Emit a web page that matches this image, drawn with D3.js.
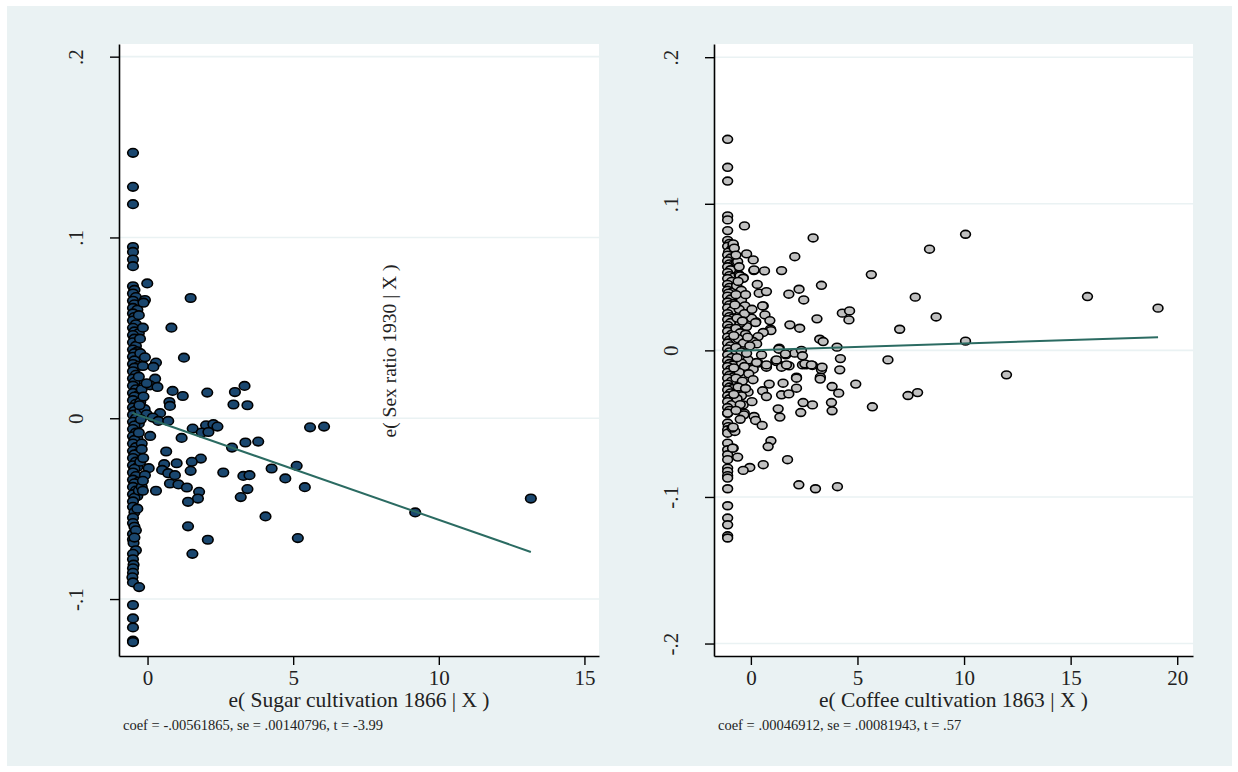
<!DOCTYPE html>
<html>
<head>
<meta charset="utf-8">
<script src="https://cdn.jsdelivr.net/npm/d3@7"></script>
<style>
  body { margin: 0; background: #fff; }
  text { font-family: "Liberation Serif", "DejaVu Serif", serif; fill: #222; }
</style>
</head>
<body>
<div id="chart"></div>
<script>
// 데이터: 왼쪽 (Sugar), 오른쪽 (Coffee) added-variable plot
const sugarColumn = [
  [-0.5,0.1468],[-0.5,0.128],[-0.5,0.1184],[-0.5,0.0947],[-0.5,0.092],[-0.5,0.0878],[-0.5,0.0841],
  [-0.5,0.073],[-0.45,0.071],[-0.5,0.069],[-0.4,0.067],[-0.5,0.065],[-0.45,0.063],[-0.5,0.061],[-0.35,0.06],
  [-0.5,0.058],[-0.45,0.056],[-0.5,0.054],[-0.4,0.052],[-0.5,0.05],[-0.45,0.048],[-0.3,0.047],[-0.5,0.046],
  [-0.45,0.044],[-0.5,0.042],[-0.4,0.04],[-0.5,0.038],[-0.35,0.037],[-0.45,0.036],[-0.5,0.034],[-0.45,0.032],
  [-0.5,0.03],[-0.3,0.029],[-0.45,0.028],[-0.5,0.026],[-0.4,0.024],[-0.5,0.022],[-0.35,0.021],[-0.45,0.02],
  [-0.5,0.018],[-0.4,0.016],[-0.5,0.014],[-0.3,0.013],[-0.45,0.012],[-0.5,0.01],[-0.4,0.008],[-0.5,0.006],
  [-0.35,0.005],[-0.45,0.004],[-0.5,0.002],[-0.4,0.0],[-0.5,-0.002],[-0.3,-0.003],[-0.45,-0.004],[-0.5,-0.006],
  [-0.4,-0.008],[-0.5,-0.01],[-0.35,-0.011],[-0.45,-0.012],[-0.5,-0.014],[-0.4,-0.016],[-0.5,-0.018],[-0.3,-0.019],
  [-0.45,-0.02],[-0.5,-0.022],[-0.4,-0.024],[-0.5,-0.026],[-0.35,-0.027],[-0.45,-0.028],[-0.5,-0.03],[-0.4,-0.032],
  [-0.5,-0.034],[-0.3,-0.035],[-0.45,-0.036],[-0.5,-0.038],[-0.4,-0.04],[-0.5,-0.042],[-0.35,-0.043],[-0.45,-0.044],
  [-0.5,-0.046],[-0.5,-0.049],[-0.45,-0.052],[-0.5,-0.055],[-0.5,-0.058],[-0.45,-0.06],[-0.5,-0.064],[-0.5,-0.067],
  [-0.48,-0.069],[-0.4,-0.073],[-0.5,-0.075],[-0.5,-0.078],[-0.48,-0.081],[-0.5,-0.083],[-0.5,-0.0855],[-0.52,-0.088],
  [-0.5,-0.0908],[-0.29,-0.0934],[-0.5,-0.1033],[-0.5,-0.1107],[-0.5,-0.1157],[-0.5,-0.123],[-0.5,-0.1238],
  [-0.3,0.057],[-0.25,0.036],[-0.3,0.023],[-0.2,0.016],[-0.25,0.004],[-0.3,-0.008],[-0.2,-0.014],[-0.25,-0.024],
  [-0.3,-0.04],[-0.35,-0.05],[-0.4,-0.062],[-0.45,-0.066],[-0.25,0.009],[-0.1,0.005],[-0.2,-0.038],[-0.15,-0.022]
];
const sugarScatter = [
  [-0.01,0.0746],[1.48,0.0665],[-0.09,0.0654],[-0.14,0.0639],[0.82,0.0501],[-0.16,0.0501],[-0.26,0.044],
  [1.25,0.0335],[0.29,0.0308],[0.2,0.0284],[-0.16,0.0289],[-0.09,0.0337],[0.26,0.0219],[0.09,0.0182],
  [0.34,0.0173],[-0.03,0.0193],[0.86,0.0151],[1.21,0.0123],[2.05,0.0142],[3.0,0.0145],[3.33,0.0179],
  [2.95,0.0076],[3.43,0.0072],[0.75,0.009],[0.77,0.0068],[-0.14,0.012],[-0.28,0.0072],[0.43,0.0028],
  [-0.03,0.0022],[0.18,0.0004],[0.37,-0.0015],[0.71,-0.0015],[-0.23,-0.0006],[1.55,-0.0057],[2.01,-0.0039],
  [2.26,-0.0033],[2.4,-0.0046],[1.86,-0.0079],[2.09,-0.0076],[5.58,-0.005],[6.06,-0.0046],[0.09,-0.0098],
  [1.17,-0.0109],[2.9,-0.0162],[3.36,-0.0134],[3.8,-0.0129],[0.64,-0.0184],[-0.2,-0.0171],[1.83,-0.0223],
  [1.52,-0.0241],[1.0,-0.0249],[0.57,-0.0254],[0.04,-0.0276],[1.48,-0.0291],[0.5,-0.0286],[0.71,-0.0304],
  [0.94,-0.0315],[2.6,-0.03],[3.29,-0.0319],[3.5,-0.0315],[4.26,-0.0278],[5.12,-0.0263],[4.73,-0.0333],
  [-0.09,-0.0315],[-0.16,-0.0346],[0.77,-0.0361],[1.06,-0.0366],[1.35,-0.0383],[0.29,-0.0401],[-0.16,-0.0401],
  [1.77,-0.0407],[1.73,-0.0444],[1.39,-0.0462],[3.43,-0.0392],[3.2,-0.0436],[5.4,-0.0381],[4.05,-0.0543],
  [1.39,-0.0598],[2.07,-0.0672],[5.16,-0.0663],[1.54,-0.075],[9.19,-0.0521],[13.16,-0.0444]
];
const coffeeColumn = [
  [-1.09,0.144],[-1.09,0.1249],[-1.09,0.1155],[-1.09,0.0917],[-1.09,0.089],[-1.09,0.0817],
  [-1.09,0.075],[-1.0,0.073],[-1.09,0.071],[-0.9,0.069],[-1.05,0.067],[-1.09,0.065],[-0.95,0.063],[-1.09,0.061],
  [-1.0,0.059],[-0.85,0.058],[-1.09,0.057],[-0.95,0.055],[-1.09,0.053],[-1.0,0.051],[-0.8,0.05],[-1.09,0.049],
  [-0.9,0.047],[-1.09,0.045],[-1.0,0.043],[-1.09,0.041],[-0.85,0.04],[-1.05,0.039],[-1.09,0.037],[-0.95,0.035],
  [-1.09,0.033],[-0.8,0.032],[-1.0,0.031],[-1.09,0.029],[-0.9,0.027],[-1.09,0.025],[-1.0,0.023],[-0.85,0.022],
  [-1.09,0.021],[-0.95,0.019],[-1.09,0.017],[-1.0,0.015],[-0.8,0.014],[-1.09,0.013],[-0.9,0.011],[-1.09,0.009],
  [-1.0,0.007],[-0.85,0.006],[-1.09,0.005],[-0.95,0.003],[-1.09,0.001],[-1.0,-0.001],[-0.8,-0.002],[-1.09,-0.003],
  [-0.9,-0.005],[-1.09,-0.007],[-1.0,-0.009],[-0.85,-0.01],[-1.09,-0.011],[-0.95,-0.013],[-1.09,-0.015],[-1.0,-0.017],
  [-0.8,-0.018],[-1.09,-0.019],[-0.9,-0.021],[-1.09,-0.023],[-1.0,-0.025],[-0.85,-0.026],[-1.09,-0.027],[-0.95,-0.029],
  [-1.09,-0.031],[-1.0,-0.033],[-0.8,-0.034],[-1.09,-0.035],[-0.9,-0.037],[-1.09,-0.039],[-1.0,-0.041],[-1.09,-0.043],
  [-1.09,-0.0428],[-1.09,-0.0496],[-1.06,-0.052],[-1.09,-0.0542],[-1.09,-0.0565],[-1.09,-0.0633],[-1.09,-0.0678],
  [-1.09,-0.0712],[-1.09,-0.0746],[-1.09,-0.0803],[-1.09,-0.0826],[-1.09,-0.0855],[-1.09,-0.0871],[-1.09,-0.0944],
  [-1.09,-0.106],[-1.09,-0.1144],[-1.09,-0.119],[-1.09,-0.1265],[-1.09,-0.128]
];
const coffeeScatter = [
  [-0.3,0.0849],[2.92,0.0767],[2.06,0.0639],[5.65,0.0517],[-0.83,0.0719],[-0.8,0.0701],[-0.2,0.0658],
  [0.11,0.0617],[-0.67,0.0599],[0.14,0.0544],[0.64,0.0542],[1.44,0.0544],[-0.55,0.0515],[-0.36,0.0496],
  [3.31,0.0444],[-0.67,0.0444],[0.39,0.039],[0.73,0.0401],[1.78,0.0383],[2.26,0.0417],[2.48,0.0344],
  [0.58,0.0303],[-0.51,0.034],[-0.36,0.0299],[0.66,0.0242],[0.89,0.0203],[0.92,0.0145],[0.23,0.0196],
  [3.1,0.0215],[4.29,0.0254],[4.63,0.0269],[4.6,0.0208],[1.83,0.0174],[2.29,0.0151],[3.23,0.0076],
  [3.39,0.006],[4.04,0.0022],[1.33,0.0015],[1.64,-0.0031],[2.06,-0.0019],[2.37,0.0],[2.42,-0.0037],
  [4.2,-0.0056],[6.43,-0.0065],[1.17,-0.007],[0.19,-0.0087],[0.73,-0.011],[2.42,-0.0099],[2.6,-0.0099],
  [2.89,-0.0103],[1.48,-0.0106],[1.79,-0.0106],[3.31,-0.0133],[4.17,-0.0133],[2.14,-0.0183],[3.26,-0.0183],
  [10.07,0.0792],[8.38,0.069],[7.71,0.0363],[15.79,0.0367],[19.1,0.0288],[8.69,0.0228],[6.98,0.0144],
  [10.07,0.0063],[11.99,-0.0167],[4.92,-0.023],[7.37,-0.0308],[7.82,-0.0288],[5.7,-0.0385],
  [-0.2,-0.0083],[0.34,-0.0087],[0.73,-0.0115],[1.2,-0.0076],[1.44,-0.0115],[-0.36,-0.0133],[0.11,-0.0128],
  [2.14,-0.019],[3.25,-0.0196],[3.81,-0.0247],[4.12,-0.0292],[0.86,-0.023],[1.51,-0.0224],[2.14,-0.0258],
  [0.55,-0.0276],[0.73,-0.0315],[1.44,-0.0303],[1.78,-0.0297],[-0.13,-0.0285],[-0.44,-0.031],[2.45,-0.0356],
  [2.89,-0.0372],[3.78,-0.0356],[3.81,-0.0412],[1.28,-0.0399],[1.36,-0.0455],[2.34,-0.0424],[-0.36,-0.0372],
  [-0.31,-0.0428],[0.15,-0.0451],[0.22,-0.0478],[0.53,-0.0512],[-0.75,-0.0553],[-0.88,-0.053],[0.94,-0.0617],
  [0.81,-0.0656],[-0.83,-0.0667],[-0.62,-0.0728],[1.72,-0.0746],[0.58,-0.078],[-0.05,-0.0799],[-0.36,-0.0819],
  [2.25,-0.0917],[3.03,-0.0944],[4.06,-0.093],
  [-0.83,0.0726],[-0.78,0.0697],[-0.62,0.0605],[0.15,0.0549],[-0.51,0.0508],[-0.36,0.0492],[-0.67,0.044],
  [-0.44,0.0344],[-0.28,0.0303],[0.55,0.0303],[-0.13,0.0242],[0.03,0.022],[0.22,0.019],[0.94,0.0135],
  [0.58,0.0122],[0.34,0.0094],[0.11,0.006],[0.27,0.0044],[-0.2,0.0162],[-0.51,0.0185],[1.31,0.0008],
  [1.62,-0.0024],[0.5,-0.0031],[-0.13,-0.0065],[-0.44,-0.0087],[0.27,-0.0083],[0.73,-0.0099],[1.2,-0.0065],
  [1.67,-0.0099],[2.53,-0.0092],[2.84,-0.0099],[3.34,-0.0115],[-0.33,-0.044],[-0.83,-0.0524],[-0.86,-0.0667],
  [-0.7,0.065],[-0.6,0.047],[-0.45,0.041],[-0.7,0.038],[-0.55,0.028],[-0.3,0.025],[-0.65,0.022],[-0.4,0.02],
  [-0.7,0.015],[-0.5,0.012],[-0.25,0.011],[-0.6,0.008],[-0.35,0.005],[-0.05,0.003],[-0.7,0.002],[-0.45,-0.001],
  [-0.2,-0.002],[-0.65,-0.005],[-0.3,-0.011],[-0.55,-0.015],[-0.1,-0.016],[-0.7,-0.019],[-0.4,-0.021],[0.1,-0.02],
  [-0.6,-0.025],[-0.25,-0.026],[-0.65,-0.033],[-0.5,-0.037],[-0.7,-0.041],[0.05,-0.035],[-0.15,0.009],[0.05,0.028],
  [-0.55,0.057],[-0.25,0.038],[0.3,0.045],[-0.5,-0.047],[-0.75,0.031],[-0.8,0.01],[-0.8,-0.012],[-0.8,-0.03]
];

const sugarXTicks = [0, 5, 10, 15];
const sugarYTicks = [-0.1, 0, 0.1, 0.2];
const coffeeXTicks = [0, 5, 10, 15, 20];
const coffeeYTicks = [-0.2, -0.1, 0, 0.1, 0.2];
const sugarCoef = -0.00561865;
const coffeeCoef = 0.00046912;
const sugarTitle = "e( Sugar cultivation 1866 | X )";
const coffeeTitle = "e( Coffee cultivation 1863 | X )";
const sugarNote = "coef = -.00561865, se = .00140796, t = -3.99";
const coffeeNote = "coef = .00046912, se = .00081943, t = .57";
const yTitle = "e( Sex ratio 1930 | X )";

const W = 1238, H = 772;
const svg = d3.select("#chart").append("svg").attr("width", W).attr("height", H);

// 바깥 배경
svg.append("rect").attr("x", 7).attr("y", 6).attr("width", 1225).attr("height", 760).attr("fill", "#eaf2f3");

// Stata 스타일 숫자 (.1, -.1)
const fmt = (d) => (d === 0 ? "0" : String(+d.toFixed(2)).replace("0.", "."));

function drawPanel(cfg) {
  const x = d3.scaleLinear().domain(cfg.xDomain).range([cfg.left, cfg.right]);
  const y = d3.scaleLinear().domain(cfg.yDomain).range([656, 44]);
  const g = svg.append("g");

  g.append("rect")
    .attr("x", cfg.left).attr("y", 44)
    .attr("width", cfg.right - cfg.left).attr("height", 612)
    .attr("fill", "#fff");

  // 그리드
  g.selectAll(".grid")
    .data(cfg.yTicks)
    .enter()
    .append("line")
    .attr("x1", cfg.left).attr("x2", cfg.right)
    .attr("y1", (d) => y(d)).attr("y2", (d) => y(d))
    .attr("stroke", "#eaf2f3").attr("stroke-width", 1.6);

  // 점
  const pts = cfg.points;
  g.selectAll(".pt")
    .data(pts)
    .enter()
    .append("ellipse")
    .attr("cx", (d) => x(d[0]))
    .attr("cy", (d) => y(d[1]))
    .attr("rx", cfg.rx).attr("ry", cfg.ry)
    .attr("fill", cfg.fill)
    .attr("stroke", "#000").attr("stroke-width", 1.6);

  // 적합선
  const ext = d3.extent(pts, (d) => d[0]);
  g.append("path")
    .datum(ext.map((v) => [v, cfg.coef * v]))
    .attr("d", d3.line().x((d) => x(d[0])).y((d) => y(d[1])))
    .attr("stroke", "#2b6b62").attr("stroke-width", 2).attr("fill", "none");

  // 축
  const ax = g.append("g")
    .attr("transform", `translate(0,656)`)
    .call(d3.axisBottom(x).tickValues(cfg.xTicks).tickSizeInner(9).tickSizeOuter(0).tickPadding(5).tickFormat((d) => d));
  const ay = g.append("g")
    .attr("transform", `translate(${cfg.left},0)`)
    .call(d3.axisLeft(y).tickValues(cfg.yTicks).tickSizeInner(9).tickSizeOuter(0).tickFormat(fmt));
  [ax, ay].forEach((a) => {
    a.select(".domain").attr("stroke", "#000").attr("stroke-width", 1.6);
    a.selectAll(".tick line").attr("stroke", "#000").attr("stroke-width", 1.4);
    a.selectAll("text").style("font-size", "21px").style("font-family", "Liberation Serif").attr("fill", "#222");
  });
  // y축 눈금 텍스트 세로로
  ay.selectAll(".tick text")
    .attr("x", null).attr("dy", null)
    .attr("text-anchor", "middle")
    .attr("transform", `translate(-36,0) rotate(-90)`);

  g.append("text")
    .attr("x", (cfg.left + cfg.right) / 2).attr("y", 707)
    .attr("text-anchor", "middle").style("font-size", "21.5px")
    .text(cfg.title);

  g.append("text")
    .attr("x", cfg.left + 4).attr("y", 730)
    .style("font-size", "14.5px")
    .text(cfg.note);
}

drawPanel({
  left: 119, right: 599,
  xDomain: [-0.98, 15.5], yDomain: [-0.1315, 0.207],
  xTicks: sugarXTicks, yTicks: sugarYTicks,
  points: sugarColumn.concat(sugarScatter), coef: sugarCoef,
  fill: "#1a476f", rx: 5.3, ry: 4.3,
  title: sugarTitle, note: sugarNote
});

drawPanel({
  left: 714, right: 1193,
  xDomain: [-1.73, 20.74], yDomain: [-0.2085, 0.209],
  xTicks: coffeeXTicks, yTicks: coffeeYTicks,
  points: coffeeColumn.concat(coffeeScatter), coef: coffeeCoef,
  fill: "#c0c0c0", rx: 4.9, ry: 3.9,
  title: coffeeTitle, note: coffeeNote
});

// 이상한 위치의 y축 제목 (원본 그대로)
svg.append("text")
  .attr("transform", "translate(396,351) rotate(-90)")
  .attr("text-anchor", "middle")
  .style("font-size", "19.5px")
  .text(yTitle);
</script>
</body>
</html>
